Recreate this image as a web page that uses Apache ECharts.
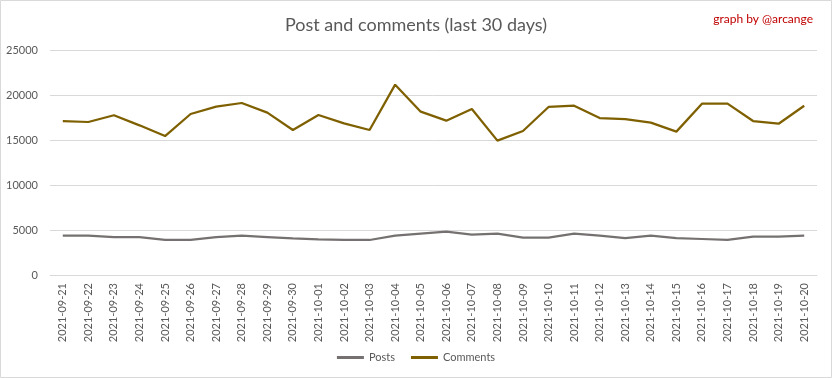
<!DOCTYPE html>
<html><head><meta charset="utf-8">
<script src="https://cdn.jsdelivr.net/npm/echarts@6/dist/echarts.min.js"></script>
<style>html,body{margin:0;padding:0;background:#fff}#c{width:832px;height:378px}</style>
</head><body><div id="c"></div>
<script>
const categories = ["2021-09-21","2021-09-22","2021-09-23","2021-09-24","2021-09-25","2021-09-26","2021-09-27","2021-09-28","2021-09-29","2021-09-30","2021-10-01","2021-10-02","2021-10-03","2021-10-04","2021-10-05","2021-10-06","2021-10-07","2021-10-08","2021-10-09","2021-10-10","2021-10-11","2021-10-12","2021-10-13","2021-10-14","2021-10-15","2021-10-16","2021-10-17","2021-10-18","2021-10-19","2021-10-20"];
const posts = [4370,4370,4220,4220,3890,3890,4220,4370,4220,4070,3960,3890,3890,4370,4590,4810,4480,4590,4150,4150,4590,4370,4110,4370,4110,4000,3890,4260,4260,4370];
const comments = [17100,17000,17750,16630,15440,17890,18700,19110,18040,16110,17780,16850,16110,21150,18150,17150,18440,14930,16000,18670,18810,17440,17330,16930,15930,19040,19040,17110,16810,18810];
const yTicks = [0,5000,10000,15000,20000,25000];

const FONT = "Lato,'Noto Sans',sans-serif";
const chart = echarts.init(document.getElementById('c'), null, {renderer:'canvas'});
chart.setOption({
  animation:false,
  textStyle:{fontFamily:FONT},
  graphic:[{type:'rect',shape:{x:0.5,y:0.5,width:831,height:377},style:{fill:'none',stroke:'#d9d9d9',lineWidth:1}}],
  title:[
    {text:'Post and comments (last 30 days)',left:'center',top:11,textStyle:{fontFamily:FONT,fontSize:18,fontWeight:'normal',color:'#595959'}},
    {text:'graph by @arcange',right:14,top:8,textStyle:{fontFamily:FONT,fontSize:12,fontWeight:'normal',color:'#c00000'}}
  ],
  legend:{bottom:10,left:'center',itemWidth:27,itemHeight:3,itemGap:16,icon:'rect',
    textStyle:{fontFamily:FONT,fontSize:11,color:'#595959'},data:['Posts','Comments']},
  grid:{left:50,right:15,top:50,bottom:103},
  xAxis:{type:'category',data:categories,boundaryGap:true,
    axisLine:{lineStyle:{color:'#d9d9d9'}},axisTick:{show:false},
    axisLabel:{rotate:90,fontSize:11,color:'#595959',fontFamily:FONT,margin:8,interval:0}},
  yAxis:{type:'value',min:yTicks[0],max:yTicks[yTicks.length-1],interval:5000,
    axisLine:{show:false},axisTick:{show:false},
    splitLine:{lineStyle:{color:'#d9d9d9'}},
    axisLabel:{fontSize:11,color:'#595959',fontFamily:FONT,margin:12,formatter:function(v){return String(v);}}},
  series:[
    {name:'Posts',type:'line',data:posts,symbol:'none',lineStyle:{color:'#767171',width:2.25},itemStyle:{color:'#767171'}},
    {name:'Comments',type:'line',data:comments,symbol:'none',lineStyle:{color:'#7f6000',width:2.25},itemStyle:{color:'#7f6000'}}
  ]
});
</script></body></html>
